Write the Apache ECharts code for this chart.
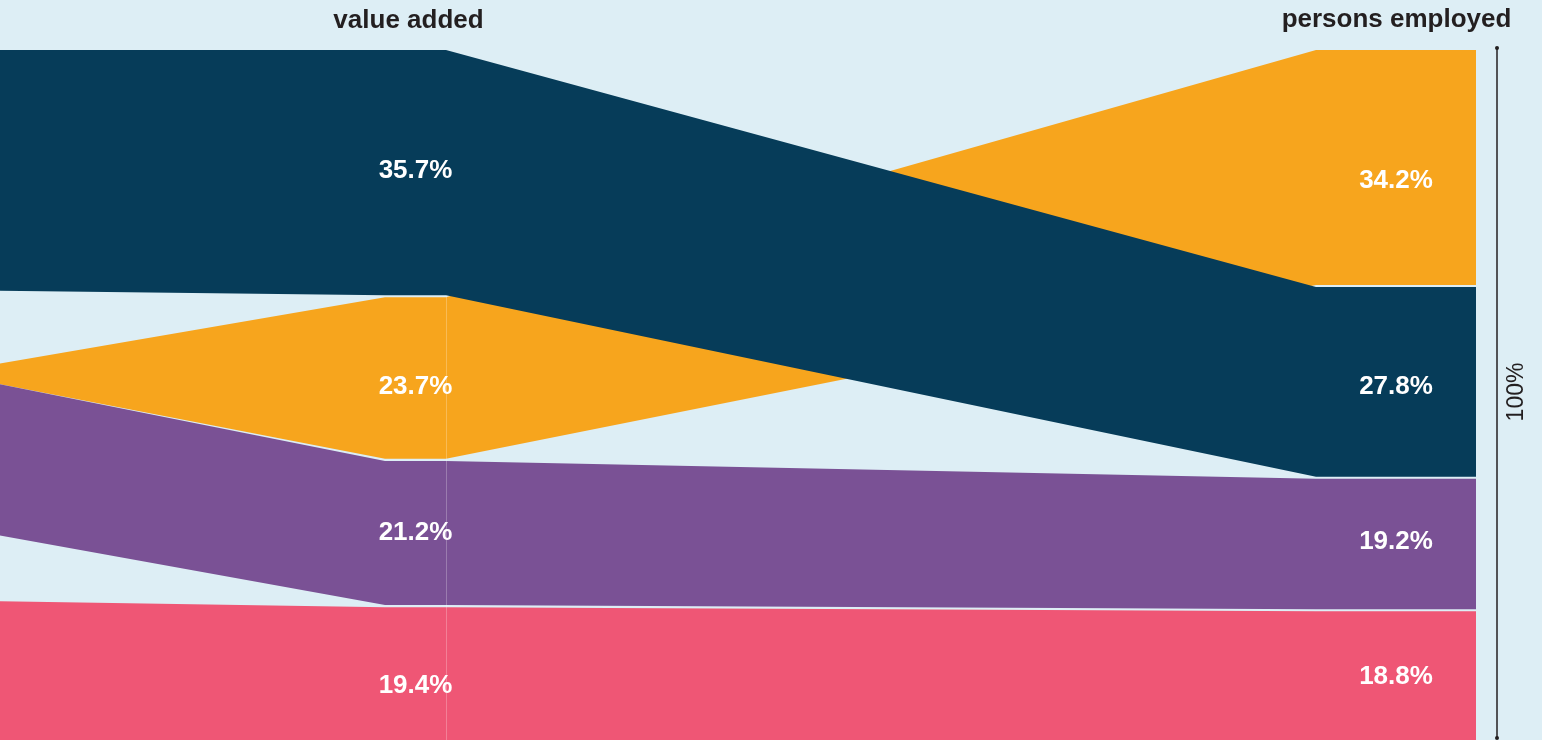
<!DOCTYPE html>
<html>
<head>
<meta charset="utf-8">
<script src="https://cdn.jsdelivr.net/npm/echarts@6.0.0/dist/echarts.min.js"></script>
<style>
  html, body { margin: 0; padding: 0; background: #ddeef5; }
  #chart { width: 1542px; height: 740px; }
</style>
</head>
<body>
<div id="chart"></div>
<script>
// ---- data (shares in %) ----
const bands = ['navy', 'orange', 'purple', 'pink'];
const valueAdded = [35.7, 23.7, 21.2, 19.4];
const personsEmployed = [27.8, 34.2, 19.2, 18.8];
// stacking order, top to bottom, in each column
const valueAddedOrder = [0, 1, 2, 3];
const personsEmployedOrder = [1, 0, 2, 3];
// where each band enters from the left margin (% from top)
const edgeFrom = [0, 45.5, 48.4, 79.9];
const edgeTo = [34.9, 48.4, 70.3, 100];
const columnTitles = ['value added', 'persons employed'];
const totalLabel = '100%';

// ---- layout & style ----
const COLORS = { navy: '#063c59', orange: '#f7a51d', purple: '#7a5195', pink: '#ef5675' };
const BG = '#ddeef5';
const INK = '#231f20';
const EDGE_X = 0;
const VA_X = [385, 446];
const PE_X = [1316, 1476];
const RULE_X = 1497;
const GAP = 0.15;                 // thin gap between stacked segments
const DRAW_ORDER = [1, 0, 2, 3];  // navy flows over orange
const nudgeVA = [-2, 9, 0, 13];   // label fine-tuning, px
const nudgePE = [5, 13, -2, 2];
const LABEL_FONT = 'bold 26px "Liberation Sans", Arial, sans-serif';
const TITLE_FONT = 'bold 26px "Liberation Sans", Arial, sans-serif';

function spans(values, order) {
  const out = [];
  let acc = 0;
  order.forEach(i => {
    const a = acc, b = acc + values[i];
    out[i] = [a > 0.01 ? a + GAP : a, b < 99.9 ? b - GAP : 100, a, b];
    acc = b;
  });
  return out;
}
const vaSpan = spans(valueAdded, valueAddedOrder);
const peSpan = spans(personsEmployed, personsEmployedOrder);

function renderBand(params, api) {
  const i = api.value(0);
  const c = (x, y) => api.coord([x, y]);
  const va = vaSpan[i], pe = peSpan[i];
  const pts = [
    c(EDGE_X - 2, edgeFrom[i]), c(VA_X[0], va[0]), c(VA_X[1], va[0]),
    c(PE_X[0], pe[0]), c(PE_X[1], pe[0]),
    c(PE_X[1], pe[1]), c(PE_X[0], pe[1]),
    c(VA_X[1], va[1]), c(VA_X[0], va[1]), c(EDGE_X - 2, edgeTo[i])
  ];
  const vaMid = c((VA_X[0] + VA_X[1]) / 2, (va[2] + va[3]) / 2);
  const peMid = c((PE_X[0] + PE_X[1]) / 2, (pe[2] + pe[3]) / 2);
  return {
    type: 'group',
    children: [
      { type: 'polygon', shape: { points: pts }, style: { fill: COLORS[bands[i]] } },
      { type: 'text', x: vaMid[0], y: vaMid[1] + nudgeVA[i], z2: 100,
        style: { text: valueAdded[i].toFixed(1) + '%', fill: '#fff', font: LABEL_FONT,
                 align: 'center', verticalAlign: 'middle' } },
      { type: 'text', x: peMid[0], y: peMid[1] + nudgePE[i], z2: 100,
        style: { text: personsEmployed[i].toFixed(1) + '%', fill: '#fff', font: LABEL_FONT,
                 align: 'center', verticalAlign: 'middle' } }
    ]
  };
}

function renderGuides(params, api) {
  const top = api.coord([RULE_X, 0]);
  const bot = api.coord([RULE_X, 100]);
  const seamTop = api.coord([VA_X[1] + 0.5, valueAdded[valueAddedOrder[0]]]);
  const seamBot = api.coord([VA_X[1] + 0.5, 100]);
  const mid = (top[1] + bot[1]) / 2;
  return {
    type: 'group',
    children: [
      { type: 'line', shape: { x1: seamTop[0], y1: seamTop[1], x2: seamBot[0], y2: seamBot[1] },
        style: { stroke: 'rgba(255,255,255,0.25)', lineWidth: 1 } },
      { type: 'line', shape: { x1: top[0], y1: top[1] - 2, x2: bot[0], y2: bot[1] - 2 },
        style: { stroke: INK, lineWidth: 1.5 } },
      { type: 'circle', shape: { cx: top[0], cy: top[1] - 2, r: 2 }, style: { fill: INK } },
      { type: 'circle', shape: { cx: bot[0], cy: bot[1] - 2, r: 2 }, style: { fill: INK } },
      { type: 'text', x: top[0] + 20, y: mid - 3, rotation: Math.PI / 2,
        style: { text: totalLabel, fill: INK, font: '23px "Liberation Sans", Arial, sans-serif',
                 align: 'center', verticalAlign: 'middle' } }
    ]
  };
}

const chart = echarts.init(document.getElementById('chart'), null, { renderer: 'canvas' });
chart.setOption({
  backgroundColor: BG,
  animation: false,
  grid: { left: 0, right: 0, top: 50, bottom: 0 },
  xAxis: { type: 'value', min: 0, max: 1542, show: false },
  yAxis: { type: 'value', min: 0, max: 100, inverse: true, show: false },
  graphic: [
    { type: 'text', x: 408.5, y: 21,
      style: { text: columnTitles[0], fill: INK, font: TITLE_FONT, align: 'center', verticalAlign: 'middle' } },
    { type: 'text', x: 1396.5, y: 20,
      style: { text: columnTitles[1], fill: INK, font: TITLE_FONT, align: 'center', verticalAlign: 'middle' } }
  ],
  series: [
    { type: 'custom', renderItem: renderBand, data: DRAW_ORDER.map(i => [i]), silent: true },
    { type: 'custom', renderItem: renderGuides, data: [[0]], silent: true, z: 3 }
  ]
});
</script>
</body>
</html>
